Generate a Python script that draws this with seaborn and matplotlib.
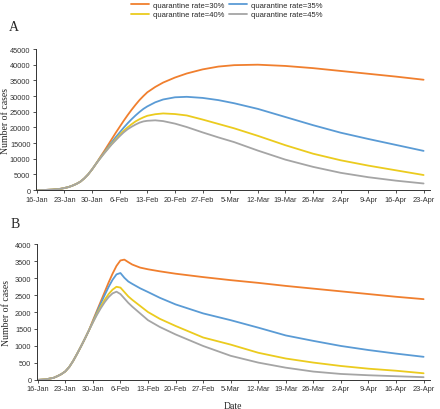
import matplotlib
matplotlib.use("Agg")
import matplotlib.pyplot as plt
import numpy as np
import pandas as pd
import seaborn as sns

sns.set_theme(style="ticks")

start = pd.Timestamp("2020-01-16")
rates = ["quarantine rate=30%", "quarantine rate=35%",
         "quarantine rate=40%", "quarantine rate=45%"]
colors = ["#F07F2E", "#5A9BD5", "#EBCB1E", "#A5A5A5"]

# panel A: cumulative cases, days after 16-Jan
days_a = [0, 2, 4, 6, 7, 8, 9, 10, 11, 12, 13, 14, 15,
          16, 17, 18, 19, 20, 21, 22, 23, 24, 25, 26, 27, 28,
          30, 32, 35, 38, 42, 46, 50, 56, 63, 70, 77, 84, 91, 98]
early_a = [0, 30, 150, 400, 650, 950, 1400, 1950, 2650, 3700, 5000, 6600, 8400]
a_30 = early_a + [10400, 12300, 14300, 16300, 18300, 20200, 22100, 23900, 25600, 27200, 28700, 30000, 31200,
                  32900, 34300, 35900, 37200, 38500, 39400, 39850, 40000, 39600, 38900, 38000, 37100, 36200, 35200]
a_35 = early_a + [10200, 11900, 13600, 15300, 16900, 18400, 19900, 21300, 22600, 23800, 24900, 25900, 26700,
                  28000, 28900, 29600, 29750, 29400, 28700, 27700, 25900, 23300, 20700, 18300, 16300, 14400, 12500]
a_40 = early_a + [10100, 11700, 13300, 14800, 16200, 17600, 18900, 20000, 21000, 21900, 22600, 23200, 23700,
                  24200, 24450, 24250, 23800, 22500, 21100, 19700, 17300, 14300, 11600, 9500, 7800, 6300, 4800]
a_45 = early_a + [10000, 11600, 13100, 14600, 15900, 17200, 18400, 19400, 20200, 20900, 21500, 21900, 22100,
                  22250, 22000, 21200, 20100, 18400, 16800, 15300, 12600, 9700, 7400, 5500, 4100, 3000, 2100]

# panel B: new cases, days after 16-Jan
days_b = [0, 2, 4, 5, 6, 7, 8, 9, 10, 11, 12, 13, 14,
          15, 16, 17, 18, 19, 20, 21, 22, 23, 24,
          26, 28, 31, 35, 42, 49, 56, 63, 70, 77, 84, 91, 98]
early_b = [0, 15, 60, 110, 170, 250, 380, 560, 770, 990, 1220, 1460]
b_30 = early_b + [1750, 2030, 2310, 2590, 2870, 3130, 3360, 3520, 3545, 3470, 3400,
                  3310, 3260, 3200, 3130, 3030, 2940, 2860, 2770, 2690, 2610, 2530, 2450, 2380]
b_35 = early_b + [1720, 1990, 2250, 2500, 2740, 2950, 3110, 3150, 3010, 2900, 2830,
                  2700, 2590, 2420, 2225, 1960, 1760, 1540, 1310, 1150, 1000, 880, 775, 680]
b_40 = early_b + [1700, 1940, 2160, 2360, 2530, 2660, 2745, 2720, 2590, 2460, 2360,
                  2180, 2000, 1800, 1590, 1250, 1040, 800, 630, 510, 410, 330, 270, 195]
b_45 = early_b + [1690, 1910, 2110, 2290, 2440, 2550, 2600, 2530, 2400, 2270, 2160,
                  1960, 1760, 1560, 1340, 1000, 710, 510, 360, 245, 175, 137, 108, 80]


def long_frame(days, series):
    frames = []
    for name, vals in zip(rates, series):
        frames.append(pd.DataFrame({
            "date": start + pd.to_timedelta(days, unit="D"),
            "cases": vals,
            "rate": name,
        }))
    return pd.concat(frames, ignore_index=True)


df_a = long_frame(days_a, [a_30, a_35, a_40, a_45])
df_b = long_frame(days_b, [b_30, b_35, b_40, b_45])

fig = plt.figure(figsize=(4.4, 4.1), dpi=100)
ax_a = fig.add_axes([0.082, 0.534, 0.895, 0.344])
ax_b = fig.add_axes([0.084, 0.071, 0.893, 0.331])

serif = ["Liberation Serif", "DejaVu Serif"]
sans = ["Liberation Sans", "DejaVu Sans"]


def style_axis(ax, ymax, ystep):
    ax.set_xlim(start - pd.Timedelta(days=0.2), start + pd.Timedelta(days=99.6))
    ax.set_ylim(0, ymax)
    ax.set_yticks(np.arange(0, ymax + 1, ystep))
    ticks = [start + pd.Timedelta(days=7 * i) for i in range(15)]
    ax.set_xticks(ticks)
    ax.set_xticklabels([t.strftime("%d-%b").lstrip("0") for t in ticks])
    for lab in ax.get_xticklabels() + ax.get_yticklabels():
        lab.set_family(sans)
        lab.set_fontsize(5.3)
        lab.set_color("#333333")
    ax.tick_params(length=2.5, width=0.6, pad=1.5, color="#333333")
    sns.despine(ax=ax)
    for s in ["left", "bottom"]:
        ax.spines[s].set_linewidth(0.7)
        ax.spines[s].set_color("#333333")
    ax.set_ylabel("Number of cases", family=serif, fontsize=7)
    ax.yaxis.set_label_coords(-0.066, 0.5)
    ax.set_xlabel("")


sns.lineplot(data=df_a, x="date", y="cases", hue="rate", palette=colors,
             linewidth=1.3, ax=ax_a, legend=False)
sns.lineplot(data=df_b, x="date", y="cases", hue="rate", palette=colors,
             linewidth=1.3, ax=ax_b, legend=False)

style_axis(ax_a, 45000, 5000)
style_axis(ax_b, 4000, 500)
ax_b.set_xlabel("Date", family=serif, fontsize=7, labelpad=6)

fig.text(0.02, 0.925, "A", family=serif, fontsize=10)
fig.text(0.025, 0.445, "B", family=serif, fontsize=10)

# order so that rows read 30/35 then 40/45
order = [0, 2, 1, 3]
handles = [plt.Line2D([], [], color=colors[i], lw=1.3) for i in order]
fig.legend(handles, [rates[i] for i in order], loc="upper center",
           bbox_to_anchor=(0.515, 1.01), ncol=2, frameon=False,
           prop={"family": sans, "size": 5.5},
           handlelength=2.4, handletextpad=0.5, columnspacing=0.6,
           labelspacing=0.25)

fig.savefig("out.png", dpi=100, facecolor="white")
